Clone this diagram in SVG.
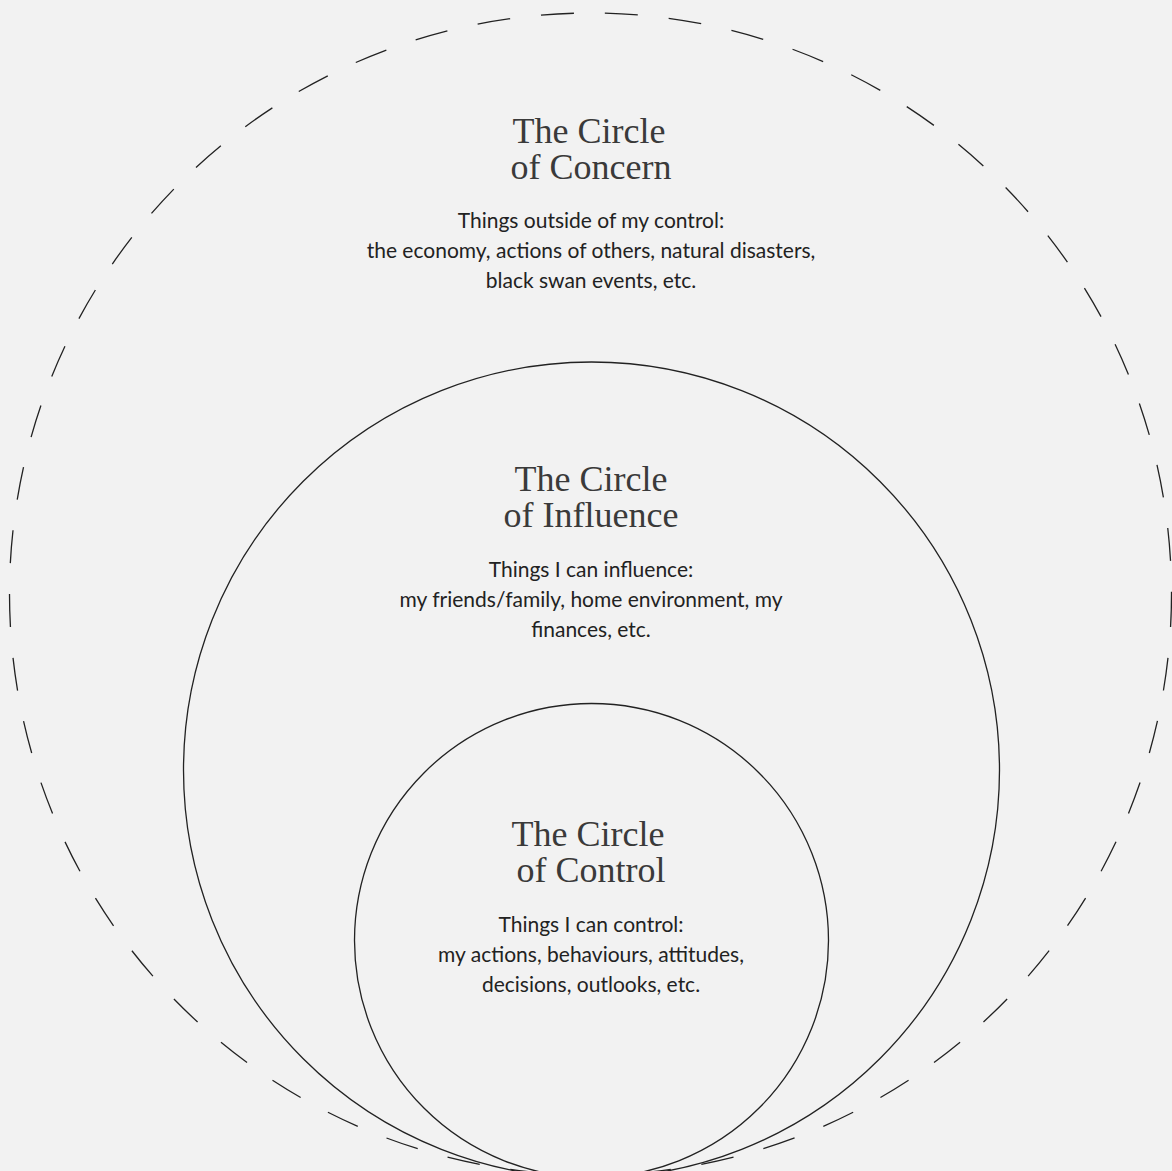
<svg xmlns="http://www.w3.org/2000/svg" width="1172" height="1171" viewBox="0 0 1172 1171">
<style>
.ring{fill:none;stroke:#222;stroke-width:1.3}
.dash{stroke-dasharray:33 31}
.title{font-family:"Liberation Serif","Times New Roman",serif;font-size:36px;fill:#3a3a3a;text-anchor:middle}
.body{font-family:Lato,"Liberation Sans",sans-serif;font-size:21px;fill:#222;text-anchor:middle}
</style>
<rect width="1172" height="1171" fill="#f2f2f2"/>
<g id="concern">
<circle class="ring dash" cx="590.5" cy="594" r="581"/>
<text class="title" x="589" y="143">The Circle</text>
<text class="title" x="591" y="179">of Concern</text>
<text class="body" x="591" y="228">Things outside of my control:</text>
<text class="body" x="591" y="258">the economy, actions of others, natural disasters,</text>
<text class="body" x="591" y="288">black swan events, etc.</text>
</g>
<g id="influence">
<circle class="ring" cx="591.5" cy="770" r="408"/>
<text class="title" x="591" y="491">The Circle</text>
<text class="title" x="591" y="527">of Influence</text>
<text class="body" x="591" y="577">Things I can influence:</text>
<text class="body" x="591" y="607">my friends/family, home environment, my</text>
<text class="body" x="591" y="637">finances, etc.</text>
</g>
<g id="control">
<circle class="ring" cx="591.5" cy="940.5" r="237"/>
<text class="title" x="588" y="846">The Circle</text>
<text class="title" x="591" y="882">of Control</text>
<text class="body" x="591" y="932">Things I can control:</text>
<text class="body" x="591" y="962">my actions, behaviours, attitudes,</text>
<text class="body" x="591" y="992">decisions, outlooks, etc.</text>
</g>
<g id="connectors"/>
</svg>
